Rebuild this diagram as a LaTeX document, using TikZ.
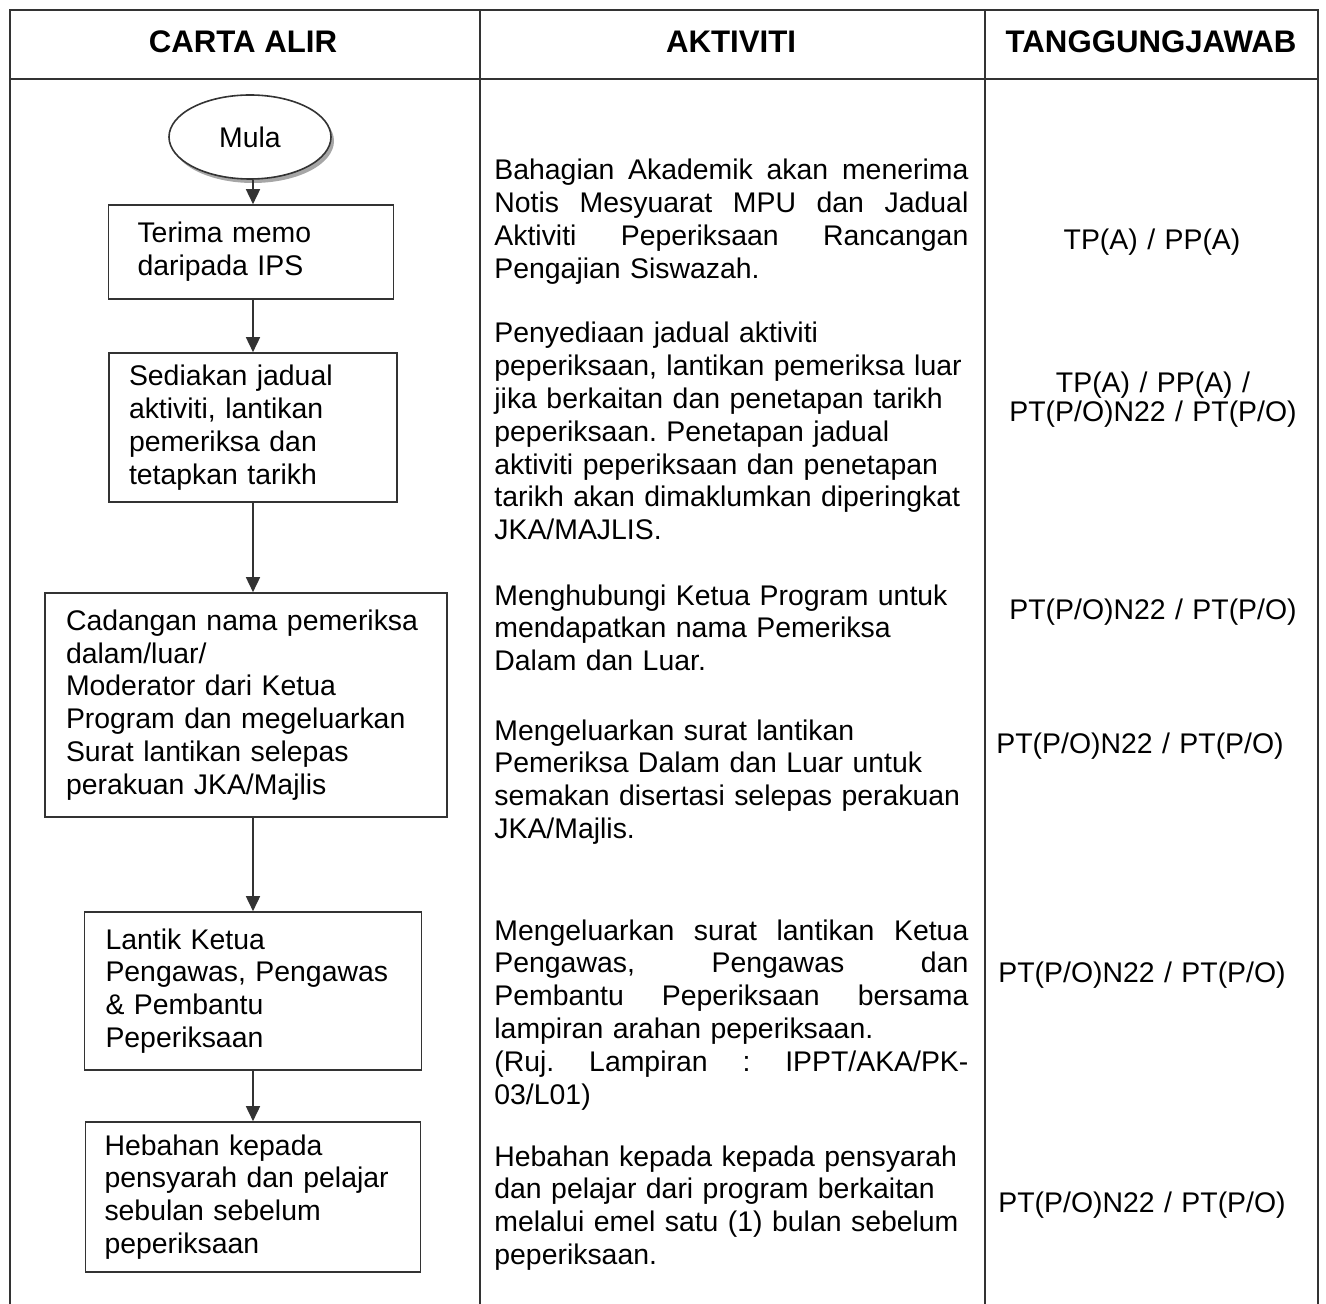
\documentclass[tikz,border=0pt]{standalone}
\usepackage{fontspec}
\setmainfont{Liberation Sans}
\usetikzlibrary{shapes.geometric,shadows,arrows.meta}
\definecolor{ink}{HTML}{333333}
\frenchspacing

% justified line inside an aktiviti node
\newcommand{\jl}[1]{\makebox[237pt][s]{\spaceskip=0.278em plus 1fil\xspaceskip=\spaceskip\relax #1}}

\begin{document}
\begin{tikzpicture}[x=0.5pt, y=-0.5pt,
    every node/.style={font=\fontsize{14.2pt}{16.4pt}\selectfont, text=black},
    grid/.style={line width=1pt, draw=ink},
    head/.style={anchor=base, font=\fontsize{15.6pt}{17pt}\selectfont\bfseries},
    flowbox/.style={draw=ink, line width=0.8pt, rectangle, inner sep=0pt, align=left},
    start/.style={draw=ink, line width=0.8pt, ellipse, fill=white,
      minimum width=81pt, minimum height=42pt,
      drop shadow={shadow xshift=1.5pt, shadow yshift=-2pt, fill=black!35, opacity=1}},
    activity/.style={anchor=base west, text width=237pt, align=left, inner sep=0pt},
    owner/.style={anchor=base, text width=160pt, align=center, inner sep=0pt},
    arr/.style={draw=ink, line width=0.8pt, -{Triangle[length=7.5pt,width=7pt]}}]
  \useasboundingbox (0,0) rectangle (1326,1304);

  % table frame
  \draw[grid] (10,1304) -- (10,10) -- (1318,10) -- (1318,1304);
  \draw[grid] (10,79) -- (1318,79);
  \draw[grid] (480,10) -- (480,1304);
  \draw[grid] (985,10) -- (985,1304);

  \node[head] (hcarta) at (243,53) {CARTA ALIR};
  \node[head] (haktiviti) at (731,53) {AKTIVITI};
  \node[head] (htanggung) at (1151,53) {TANGGUNGJAWAB};

  % carta alir
  \node[start] (mula) at (250,137) {Mula};
  \node[flowbox, minimum width=142.5pt, minimum height=47pt, text width=113.5pt]
    (terima) at (251,252) {Terima memo\\daripada IPS};
  \node[flowbox, minimum width=144pt, minimum height=74.5pt, text width=124pt]
    (sedia) at (253,427.5) {Sediakan jadual\\aktiviti, lantikan\\pemeriksa dan\\tetapkan tarikh};
  \node[flowbox, minimum width=201pt, minimum height=112pt, text width=180pt]
    (cadang) at (246,705) {Cadangan nama pemeriksa\\dalam/luar/\\Moderator dari Ketua\\Program dan megeluarkan\\Surat lantikan selepas\\perakuan JKA/Majlis};
  \node[flowbox, minimum width=168.5pt, minimum height=79pt, text width=147.5pt]
    (lantik) at (253,991) {Lantik Ketua\\Pengawas, Pengawas\\\& Pembantu\\Peperiksaan};
  \node[flowbox, minimum width=167.5pt, minimum height=75pt, text width=148.5pt]
    (hebah) at (253,1197) {Hebahan kepada\\pensyarah dan pelajar\\sebulan sebelum\\peperiksaan};

  \draw[arr] (mula.south -| sedia.north) -- (terima.north -| sedia.north);
  \draw[arr] (terima.south -| sedia.north) -- (sedia.north);
  \draw[arr] (sedia.south) -- (sedia.south |- cadang.north);
  \draw[arr] (cadang.south -| lantik.north) -- (lantik.north);
  \draw[arr] (lantik.south) -- (hebah.north);

  % aktiviti
  \node[activity] (akt1) at (494,180) {\jl{Bahagian Akademik akan menerima}\\
    \jl{Notis Mesyuarat MPU dan Jadual}\\
    \jl{Aktiviti Peperiksaan Rancangan}\\
    Pengajian Siswazah.};
  \node[activity] (akt2) at (494,343) {Penyediaan jadual aktiviti\\
    peperiksaan, lantikan pemeriksa luar\\
    jika berkaitan dan penetapan tarikh\\
    peperiksaan. Penetapan jadual\\
    aktiviti peperiksaan dan penetapan\\
    tarikh akan dimaklumkan diperingkat\\
    JKA/MAJLIS.};
  \node[activity] (akt3) at (494,605) {Menghubungi Ketua Program untuk\\
    mendapatkan nama Pemeriksa\\
    Dalam dan Luar.};
  \node[activity] (akt4) at (494,740) {Mengeluarkan surat lantikan\\
    Pemeriksa Dalam dan Luar untuk\\
    semakan disertasi selepas perakuan\\
    JKA/Majlis.};
  \node[activity] (akt5) at (494,940) {\jl{Mengeluarkan surat lantikan Ketua}\\
    \jl{Pengawas, Pengawas dan}\\
    \jl{Pembantu Peperiksaan bersama}\\
    lampiran arahan peperiksaan.\\
    \jl{(Ruj. Lampiran : IPPT/AKA/PK-}\\
    03/L01)};
  \node[activity] (akt6) at (494,1166) {Hebahan kepada kepada pensyarah\\
    dan pelajar dari program berkaitan\\
    melalui emel satu (1) bulan sebelum\\
    peperiksaan.};

  % tanggungjawab
  \node[owner] (tj1) at (1152,250) {TP(A) / PP(A)};
  \node[owner, font=\fontsize{14.2pt}{14.5pt}\selectfont] (tj2) at (1153,393)
    {TP(A) / PP(A) /\\PT(P/O)N22 / PT(P/O)};
  \node[owner] (tj3) at (1153,619) {PT(P/O)N22 / PT(P/O)};
  \node[owner] (tj4) at (1140,753) {PT(P/O)N22 / PT(P/O)};
  \node[owner] (tj5) at (1142,982) {PT(P/O)N22 / PT(P/O)};
  \node[owner] (tj6) at (1142,1212) {PT(P/O)N22 / PT(P/O)};
\end{tikzpicture}
\end{document}
